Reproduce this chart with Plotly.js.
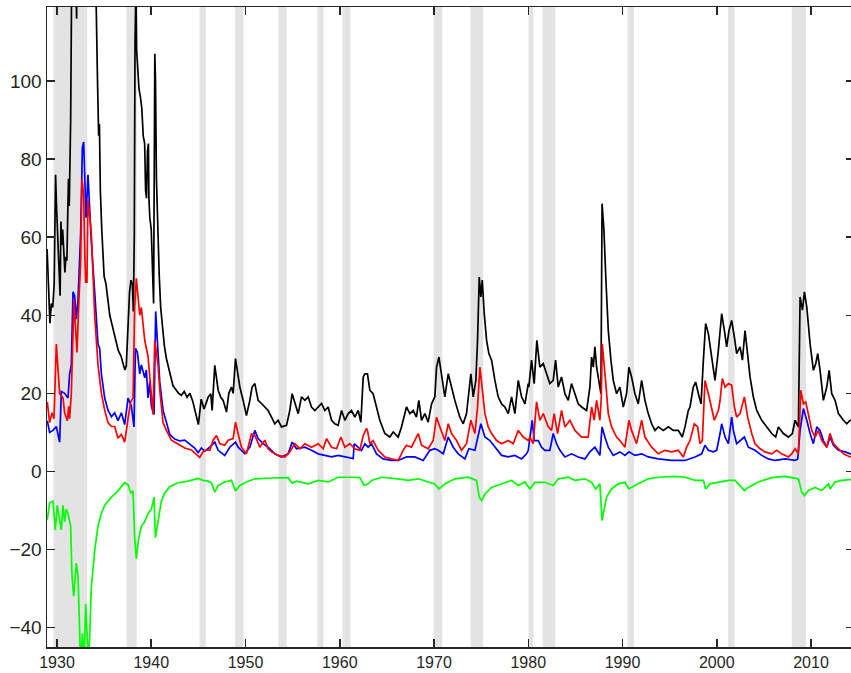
<!DOCTYPE html>
<html>
<head>
<meta charset="utf-8">
<script src="https://cdn.plot.ly/plotly-3.0.1.min.js"></script>
<style>
html,body{margin:0;padding:0;overflow:hidden;background:#fff;}
#chart{width:854px;height:673px;}
</style>
</head>
<body>
<div id="chart"></div>
<script>
// Recession periods (shaded)
const recStart = [1929.63, 1937.38, 1945.12, 1948.88, 1953.5, 1957.63, 1960.29, 1969.96, 1973.88, 1980.04, 1981.54, 1990.54, 2001.21, 2007.96];
const recEnd   = [1933.21, 1938.46, 1945.79, 1949.79, 1954.38, 1958.29, 1961.13, 1970.88, 1975.21, 1980.54, 1982.88, 1991.21, 2001.88, 2009.46];

// Black series
const blackYears = [1928.95,1929.1,1929.25,1929.4,1929.55,1929.7,1929.85,1929.95,1930.1,1930.2,1930.33,1930.42,1930.5,1930.6,1930.7,1930.84,1930.95,1931.05,1931.15,1931.22,1931.3,1931.45,1931.6,1931.8,1932.0,1932.08,1932.15,1932.5,1933.0,1933.5,1934.0,1934.17,1934.3,1934.42,1934.5,1934.6,1934.75,1935.0,1935.2,1935.4,1935.6,1935.8,1936.0,1936.2,1936.5,1936.8,1937.0,1937.2,1937.35,1937.5,1937.7,1937.85,1938.0,1938.1,1938.2,1938.28,1938.38,1938.45,1938.55,1938.7,1938.85,1939.0,1939.15,1939.3,1939.4,1939.5,1939.6,1939.7,1939.75,1939.85,1940.0,1940.15,1940.25,1940.38,1940.45,1940.55,1940.7,1940.85,1941.0,1941.2,1941.4,1941.6,1941.8,1942.0,1942.3,1942.6,1942.9,1943.2,1943.5,1943.8,1944.1,1944.4,1944.7,1945.0,1945.3,1945.6,1945.9,
1946.03,1946.32,1946.46,1946.74,1946.92,1947.1,1947.38,1947.63,1947.98,1948.23,1948.51,1948.69,1948.94,1949.15,1949.4,1949.75,1950.1,1950.46,1950.7,1950.99,1951.34,1951.7,1952.05,1952.4,1952.76,1953.11,1953.46,1953.82,1954.35,1954.7,1954.95,1955.23,1955.59,1955.94,1956.3,1956.65,1957.0,1957.36,1957.71,1958.07,1958.42,1958.77,1959.13,1959.48,1959.83,1960.19,1960.54,1960.9,1961.25,1961.6,1961.96,1962.24,1962.49,1962.67,
1962.94,1963.19,1963.54,1963.9,1964.25,1964.78,1965.31,1965.67,1966.2,1966.55,1967.08,1967.44,1967.79,1968.14,1968.39,1968.68,1969.03,1969.38,1969.74,1970.09,1970.27,1970.52,1970.8,1971.15,1971.51,1971.86,1972.21,1972.74,1973.1,1973.45,1973.91,1974.16,1974.44,1974.62,1974.8,1974.97,1975.12,1975.33,1975.58,1975.82,1976.11,1976.46,1976.81,1977.17,1977.52,1977.88,1978.23,1978.58,1978.94,1979.29,1979.65,1980.0,
1980.06,1980.35,1980.63,1980.91,1981.23,1981.59,1981.94,1982.29,1982.65,1982.9,1983.18,1983.53,1983.89,1984.24,1984.59,1984.95,1985.3,1985.66,1986.19,1986.54,1986.72,1986.9,1987.07,1987.25,1987.5,1987.71,1987.83,1988.03,1988.24,1988.49,1988.77,1989.02,1989.37,1989.72,1990.08,1990.43,1990.68,1990.96,1991.32,1991.67,1992.03,1992.38,1992.73,1993.09,1993.44,1993.79,1994.33,1994.86,1995.39,1995.92,1996.34,1996.63,1996.98,
1997.16,1997.51,1997.76,1998.05,1998.33,1998.58,1998.82,1999.11,1999.46,1999.81,2000.17,2000.52,2000.81,2001.05,2001.3,2001.58,2001.87,2002.11,2002.47,2002.72,2003.0,2003.28,2003.53,2003.88,2004.24,2004.77,2005.3,2005.83,2006.25,2006.54,2007.07,2007.6,2008.02,2008.31,2008.66,2008.84,2009.09,2009.3,2009.55,2009.9,2010.25,2010.5,2010.71,2010.96,2011.31,2011.67,2011.92,2012.2,2012.55,2012.91,2013.44,2013.79,2014.15,2014.5];
const blackVals = [57,47,38,43,42,48,76,68,60,52,45,64,58,62,56,51,55,54,67,75,68,90,140,150,125,116,135,170,190,170,135,118,100,86,89,72,62,50,48,44,40,38,36,34,31,29.5,28,26,27,35,46,49,48,41,60,110,125,108,103,98,96,93,86,84,72,70,82,84,70,65,62,47,43,107,100,75,60,50,42,37,32,29,27,25,22,21,20,19.5,20.5,19,20,18,15,12,18.5,16,18,
19,19.9,15.6,27.2,24.2,20.8,19,18.2,15.2,20,21.6,20,28.9,25,21.6,18.2,14.3,18.2,21.6,22.5,18.2,17.4,16.5,15.6,13.9,12.2,13.1,11.4,11.8,15.6,19.9,17.4,14.8,19.1,18.2,19.1,16.5,15.6,16.5,17.4,15.6,16.5,13.1,12.2,11.8,15.6,13.1,14.8,15.6,13.9,15.6,12.6,24.2,25,
25,20.8,19.9,16.5,13.1,9.7,8.8,10.1,8.8,11.4,16.5,14.8,15.6,13.9,18.2,13.1,14.8,12.6,17.3,19.1,26.7,29.3,24.2,19.1,25,21.6,18.2,13.9,12.2,14.8,25,19.1,23.3,33.6,49.8,44.7,49,40.4,33.6,30.2,28.5,23.3,19.1,17.3,16.5,14.8,19.1,14.8,23.3,19.1,17.3,22.5,
21.6,28.5,22.5,33.6,26.7,27.6,25,22.5,23.3,28.5,21.6,24.2,19.9,18.2,22.5,19.9,17.3,16.5,15.6,21.6,29.3,26.7,31.9,26.7,23.3,19.9,68.6,61.8,49,36.1,28.5,23.3,19.9,21.6,16.5,19.9,26.7,24.2,19.9,17.3,23.3,18.2,14.8,12.2,10.5,11.4,10.5,11.4,10.5,10.5,8.8,11.4,15.6,
16.5,21.6,22.9,19.9,17.3,28.5,37.9,35.3,29.3,23.3,31,40.4,36.1,31.9,36.1,38.7,34.4,30.2,31.9,28.5,36.1,30.2,24.2,19.1,15.6,13.1,11.4,9.7,8.8,11.4,9.7,8.8,9.7,13.1,11.4,44.7,41.3,46,42.1,32.7,25.9,27.6,30.2,25.9,18.2,21.6,25.9,19.9,18.2,14.8,13.1,12.2,13.1,13];

// Blue series
const blueYears = [1928.97,1929.22,1929.57,1929.93,1930.28,1930.46,1930.81,1931.17,1931.34,1931.52,1931.7,1931.87,1932.05,1932.23,1932.51,1932.69,1932.83,1932.94,1933.08,1933.29,1933.47,1933.64,1934.0,1934.35,1934.53,1934.71,1935.06,1935.41,1935.77,1936.12,1936.47,1936.83,1937.18,1937.54,1937.89,1938.17,1938.32,1938.53,1938.78,1938.95,1939.31,1939.48,1939.66,1939.84,1940.01,1940.3,1940.47,1940.72,1940.9,1941.25,1941.61,1941.96,1942.49,1943.02,1943.55,1944.08,1944.61,1944.97,1945.32,1945.68,1946.03,
1946.21,1946.74,1947.1,1947.8,1948.33,1948.94,1949.22,1949.93,1950.46,1950.99,1951.34,1951.87,1952.4,1953.11,1953.82,1954.53,1954.95,1955.41,1956.3,1957.0,1957.71,1958.42,1959.13,1959.83,1960.54,1961.43,1961.53,1961.96,1962.31,1962.67,
1963.01,1963.37,1963.9,1964.61,1965.49,1966.2,1967.08,1967.97,1968.85,1969.56,1970.09,1970.44,1970.98,1971.51,1972.04,1972.57,1973.28,1973.7,1974.34,1974.97,1975.4,1975.93,1976.46,1977.17,1977.88,1978.58,1979.29,1979.82,
1980.0,1980.42,1980.63,1981.06,1981.41,1981.76,1982.29,1982.65,1983.0,1983.36,1983.89,1984.59,1985.3,1986.01,1986.54,1987.07,1987.6,1987.83,1988.13,1988.49,1989.02,1989.72,1990.26,1990.68,1991.32,1992.03,1992.73,1993.79,1995.21,1996.27,
1996.63,1997.69,1998.4,1998.75,1999.11,1999.64,1999.99,2000.35,2000.52,2000.88,2001.23,2001.58,2001.76,2002.11,2002.47,2002.93,2003.35,2004.06,2004.77,2005.48,2006.18,2007.25,2008.31,2008.59,2008.84,2009.19,2009.55,2009.9,2010.25,2010.61,2010.96,2011.31,2011.67,2012.02,2012.38,2012.91,2013.62,2014.15,2014.5];
const blueVals = [13,10,10.5,11.5,7.5,20.5,20,18.8,25,27.3,46,45,39,44,61,83,84.4,76,65,76,67.5,59,46,32.6,31.5,25,18.8,15.7,14,15,13,15,12,18.8,16.7,11.4,31.5,30.5,25,27.3,24,26,18.8,23,16.7,14.6,41,30.5,23,15.7,12.5,9.5,8.3,7.8,8,7,6,4.8,6,5.2,5.8,
6.2,7.5,5.4,4.1,6.2,7.5,6.2,4.5,6.2,10.5,8.4,7.1,6.2,4.5,3.7,4.5,7.5,5.8,6.2,5.4,4.5,4.1,3.7,4.1,3.7,3.3,7.1,6.2,5.4,7.1,
6.2,7.1,4.5,3.2,2.8,2.8,3.7,3.7,2.8,5.4,5.8,5.4,4.5,8.8,6.2,4.5,3.2,5.8,5.4,12.2,8.8,7.9,6.2,4.1,3.7,4.1,3.2,4.5,
5.4,13.1,7.9,7.9,6.2,5.4,5.4,9.7,7.1,5.4,3.7,4.5,3.7,3.2,5,6.2,4.1,11.4,8.8,6.2,4.1,5,4.1,5,4.1,4.5,3.7,3.2,2.8,2.8,
2.8,3.7,4.5,6.7,5.4,5,5.4,9.7,12.2,8.8,7.1,13.9,10.5,7.1,7.9,8.8,6.2,5.4,4.1,3.2,2.8,3.2,2.8,3.2,10.5,16.1,13.1,9.7,7.1,11.4,10.5,7.9,6.2,8.8,6.7,5.4,5,4.5,4.6];

// Red series
const redYears = [1928.97,1929.22,1929.47,1929.68,1929.93,1930.11,1930.28,1930.64,1930.81,1931.1,1931.24,1931.34,1931.52,1931.8,1931.98,1932.12,1932.33,1932.51,1932.65,1932.83,1932.94,1933.04,1933.18,1933.29,1933.47,1933.64,1934.0,1934.35,1934.71,1935.06,1935.41,1935.77,1936.12,1936.47,1936.83,1937.18,1937.54,1937.82,1938.07,1938.24,1938.42,1938.6,1938.78,1938.95,1939.13,1939.31,1939.66,1939.94,1940.19,1940.37,1940.72,1940.9,1941.25,1941.61,1942.14,1942.84,1943.55,1944.26,1944.79,1945.14,1945.5,1945.85,
1946.21,1946.56,1946.92,1947.27,1947.8,1948.16,1948.69,1948.94,1949.22,1949.57,1950.1,1950.63,1950.99,1951.52,1952.05,1952.4,1952.76,1953.46,1954.17,1954.7,1955.23,1955.77,1956.3,1957.0,1957.71,1958.24,1958.6,1959.13,1959.66,1960.12,1960.54,1961.07,1961.6,1962.13,1962.49,1962.84,
1962.94,1963.19,1963.54,1964.08,1964.78,1965.49,1966.2,1966.73,1967.08,1967.61,1968.32,1968.68,1969.38,1969.91,1970.27,1970.62,1971.15,1971.51,1971.86,1972.39,1972.92,1973.45,1973.91,1974.34,1974.62,1974.87,1975.12,1975.4,1975.75,1976.11,1976.64,1977.17,1977.88,1978.41,1978.94,1979.47,1980.0,
1980.17,1980.52,1980.88,1981.23,1981.59,1982.12,1982.47,1982.75,1983.11,1983.53,1983.89,1984.42,1984.95,1985.66,1986.36,1986.72,1987.0,1987.25,1987.6,1987.75,1987.85,1988.2,1988.49,1988.84,1989.37,1989.72,1990.26,1990.68,1990.96,1991.49,1992.03,1992.38,1993.09,1993.79,1994.5,1995.21,1995.92,1996.45,1996.8,
1997.16,1997.62,1997.97,1998.22,1998.47,1998.75,1999.11,1999.46,1999.74,2000.17,2000.35,2000.59,2000.88,2001.23,2001.58,2001.87,2002.11,2002.47,2002.93,2003.28,2003.71,2004.06,2004.59,2005.12,2005.83,2006.36,2006.89,2007.6,2007.95,2008.31,2008.66,2008.91,2009.19,2009.44,2009.72,2010.08,2010.43,2010.78,2011.14,2011.67,2012.02,2012.38,2012.91,2013.44,2014.15,2014.5];
const redVals = [17.8,12.5,15,13.5,32.6,27.3,20,18.8,15,13,16.7,13.5,20,44,35.8,30.5,44,53.8,75,70.7,57,48.5,48.5,69.6,65.4,61,40,27.3,20,15.7,12.5,11.5,11.5,8.5,9.5,7.5,13.5,17.8,18.8,42,49.5,44,40,42,36.8,33.6,29.4,22,14.6,33.6,27.3,21,12.5,10.5,8,7,6,5.5,4.5,3.6,5,5.5,
5.4,8,9.2,7.1,6.7,8,8.4,12.6,9.6,6.2,4.5,9.6,9.2,6.2,8,5.8,5,4.1,3.7,5,7.1,5.8,7.1,6.2,7.1,5.8,8.4,6.2,5.8,8.8,6.2,7.1,5.8,5.4,9.2,11,
10.5,7.1,7.9,5.4,3.7,3.2,2.8,5.4,6.7,6.2,9.7,6.7,5.8,7.9,13.9,11.4,7.9,12.2,9.7,7.9,5.4,7.1,13.1,9.7,16.5,26.7,21.6,14.8,11.4,9.7,7.9,7.1,7.9,7.1,10.5,8.8,7.9,
8.8,7.1,17.8,13.1,14.8,11.4,10.5,14.8,9.7,15.6,11.4,13.1,10.5,8.8,8.8,16.5,13.1,18.2,13.1,19,32.7,23.3,14.8,11.4,8.8,7.9,6.2,13.1,10.5,7.1,13.1,8.8,6.2,4.5,5.4,5,5.4,3.7,6.2,
7.9,12.2,11.4,7.1,7.9,23.3,19.9,16.5,13.1,15.6,18.2,23.8,21.6,22.5,22.1,16.5,13.9,14.8,19.1,13.9,9.7,7.1,5.8,5,4.5,5.4,4.5,3.7,4.5,5.8,4.5,20.8,17.3,17.8,14.8,10.5,8.8,10.5,7.9,6.2,9.7,7.1,5.8,4.5,3.7,3.9];

// Green series
const greenYears = [1928.97,1929.22,1929.57,1929.82,1930.03,1930.28,1930.46,1930.64,1930.81,1930.99,1931.17,1931.45,1931.59,1931.77,1931.95,1932.05,1932.23,1932.33,1932.51,1932.69,1932.87,1933.04,1933.18,1933.36,1933.64,1934.0,1934.35,1934.71,1935.06,1935.77,1936.47,1937.18,1937.54,1937.82,1938.07,1938.24,1938.42,1938.6,1938.95,1939.31,1939.66,1940.01,1940.3,1940.44,1940.72,1941.07,1941.43,1941.96,1942.84,1943.9,1944.97,1945.5,1946.03,
1946.39,1946.74,1947.1,1947.8,1948.51,1948.94,1949.4,1950.1,1950.99,1952.76,1954.53,1954.95,1955.41,1956.65,1957.71,1958.77,1959.83,1961.25,1962.13,1962.59,1963.02,
1963.37,1964.43,1966.2,1967.26,1968.32,1969.38,1970.09,1970.52,1971.15,1972.21,1973.63,1974.51,1974.8,1975.05,1975.4,1976.11,1977.17,1978.23,1978.94,1979.65,
1980.17,1980.7,1981.76,1982.65,1983.18,1984.24,1984.95,1986.01,1986.72,1987.14,1987.6,1987.83,1988.03,1988.31,1988.84,1989.55,1990.26,1990.68,1991.32,1992.03,1992.73,1993.79,1995.56,1996.63,
1997.69,1998.58,1998.82,1999.28,2000.17,2001.23,2001.94,2002.93,2003.35,2004.41,2005.83,2007.25,2008.66,2009.01,2009.3,2009.72,2010.43,2011.14,2011.85,2012.02,2012.55,2013.26,2014.15,2014.5];
const greenVals = [-12.4,-8.1,-7.6,-15,-8.7,-11.9,-15,-8.7,-12.9,-9.7,-10.8,-14,-26.7,-32,-27.7,-23.5,-26.7,-36,-50,-41.5,-50,-34,-40,-50,-29.8,-20.3,-14,-10.8,-8.7,-6.6,-5,-2.9,-3.4,-5.5,-5,-17,-22.4,-18.2,-14,-12.9,-10.8,-9.7,-6.6,-17,-12.9,-7.6,-5.5,-3.9,-2.9,-2.5,-1.8,-2.3,-2.5,
-3,-5.3,-3.6,-2.7,-2.3,-5,-3.6,-2.7,-1.9,-1.7,-1.6,-3,-2.5,-3.2,-2.3,-2.7,-1.5,-1.5,-1.6,-3.6,-3.2,
-2.3,-1.5,-1.9,-2.3,-1.9,-2.7,-3.2,-4.5,-3.2,-1.9,-1.5,-2.3,-6.6,-7.5,-5.8,-4.1,-3.2,-2.3,-3.6,-2.7,
-4.5,-2.8,-2.8,-3.6,-1.9,-1.5,-2.3,-1.9,-2.8,-4.5,-3.2,-12.6,-10,-6.6,-4.5,-3.2,-2.8,-4.5,-3.6,-2.8,-1.9,-1.5,-1.3,-1.5,
-2.3,-2.3,-4.5,-3.2,-2.7,-2.3,-2.3,-4.9,-4.1,-2.7,-1.6,-1.3,-1.9,-5.3,-6.2,-4.9,-4.1,-4.9,-3.2,-4.5,-2.7,-2.3,-2.1,-2];

const xTicks = [1930,1940,1950,1960,1970,1980,1990,2000,2010];
const yTicks = [-40,-20,0,20,40,60,80,100];

const shapes = recStart.map((s, i) => ({
  type: 'rect', xref: 'x', yref: 'paper', x0: s, x1: recEnd[i], y0: 0, y1: 1,
  fillcolor: '#e3e3e3', line: {width: 0}, layer: 'below'
}));

const mk = (x, y, color) => ({x: x, y: y, type: 'scatter', mode: 'lines',
  line: {color: color, width: 1.7}, hoverinfo: 'skip', showlegend: false});

const traces = [
  mk(blackYears, blackVals, '#000000'),
  mk(blueYears, blueVals, '#0000ff'),
  mk(redYears, redVals, '#ff0000'),
  mk(greenYears, greenVals, '#00ff00')
];

const axisCommon = {
  showgrid: false, zeroline: false, showline: true, linecolor: '#262626', linewidth: 1.5,
  mirror: 'ticks', ticks: 'inside', ticklen: 8, tickwidth: 1.5, tickcolor: '#262626',
  automargin: false, fixedrange: true
};

const layout = {
  width: 854, height: 673,
  margin: {l: 47, r: 0, t: 7, b: 26, pad: 0},
  paper_bgcolor: '#ffffff', plot_bgcolor: '#ffffff',
  showlegend: false,
  shapes: shapes,
  xaxis: Object.assign({}, axisCommon, {range: [1928.94, 2014.56], tickmode: 'array', tickvals: xTicks,
    ticktext: xTicks.map(String),
    tickfont: {family: 'Liberation Sans, Arial, sans-serif', size: 16, color: '#262626'}}),
  yaxis: Object.assign({}, axisCommon, {range: [-45, 119], tickmode: 'array', tickvals: yTicks,
    ticktext: yTicks.map(v => v < 0 ? '\u2212' + Math.abs(v) : String(v)),
    tickfont: {family: 'Liberation Sans, Arial, sans-serif', size: 19, color: '#262626'}})
};

Plotly.newPlot('chart', traces, layout, {staticPlot: true, displayModeBar: false});
</script>
</body>
</html>
